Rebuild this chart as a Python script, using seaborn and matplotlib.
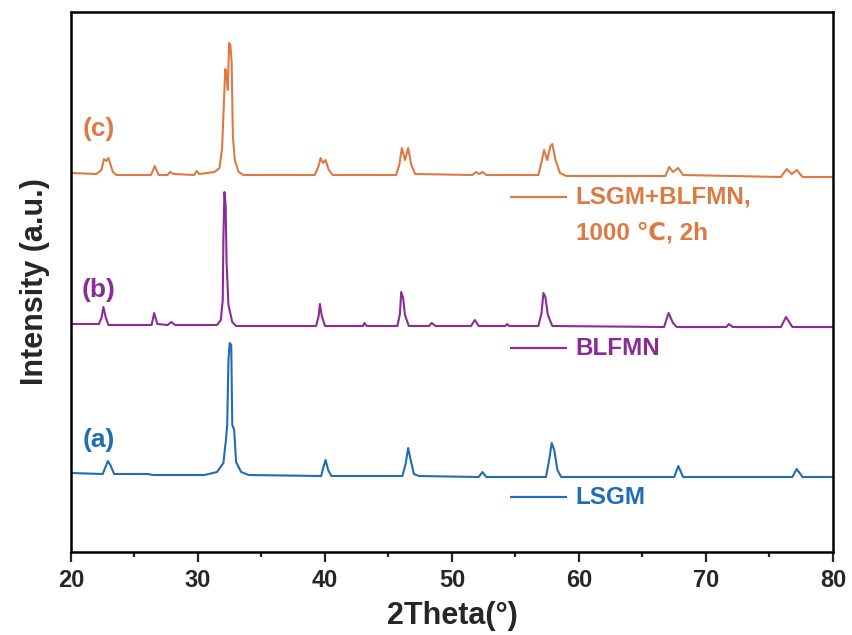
import matplotlib
matplotlib.use("Agg")
import matplotlib.pyplot as plt
import seaborn as sns
import pandas as pd
from matplotlib.ticker import MultipleLocator

# XRD patterns (relative intensity above each baseline)
lsgm_2theta = [20.0, 22.5, 22.75, 22.9, 23.1, 23.4, 26.0, 26.5, 30.5, 31.5, 32.0, 32.2, 32.3,
               32.4, 32.5, 32.62, 32.7, 32.85, 33.0, 33.4, 34.0, 39.7, 39.9, 40.05, 40.25, 40.5,
               46.1, 46.35, 46.55, 46.75, 47.0, 47.4, 52.1, 52.4, 52.7, 57.4, 57.65, 57.85, 58.05,
               58.3, 58.6, 67.5, 67.82, 68.2, 76.8, 77.14, 77.6, 80.0]
lsgm_int = [3, 2, 10, 15, 11, 2, 2, 1, 1, 4, 13, 36, 51,
            116, 133, 131, 51, 46, 14, 4, 1, 0, 10, 16, 6, 0,
            0, 12, 28, 16, 2, 0, -1, 4, -1, -1, 16, 33, 26,
            6, -1, -1, 10, -1, -1, 7, -1, -1]

blfmn_2theta = [20.0, 22.2, 22.4, 22.55, 22.75, 22.95, 26.35, 26.55, 26.8, 27.6, 27.9, 28.2,
                31.5, 31.8, 31.95, 32.0, 32.08, 32.18, 32.25, 32.4, 32.7, 33.0, 39.3, 39.5, 39.6,
                39.75, 40.0, 43.0, 43.1, 43.3, 45.7, 45.9, 46.0, 46.15, 46.3, 46.6, 48.2, 48.4,
                48.7, 51.5, 51.8, 52.1, 54.2, 54.35, 54.5, 56.8, 57.05, 57.2, 57.35, 57.55, 57.9,
                66.7, 67.05, 67.4, 67.7, 71.6, 71.8, 72.1, 75.9, 76.3, 76.8, 80.0]
blfmn_int = [2, 2, 8, 19, 8, 1, 1, 13, 2, 1, 4, 1,
             1, 6, 26, 86, 134, 121, 64, 21, 4, 0, 0, 10, 22,
             10, 0, 0, 3, 0, 0, 12, 34, 28, 11, 0, 0, 3,
             0, 0, 6, 0, 0, 2, 0, 0, 13, 33, 29, 11, 0,
             -1, 13, 3, -1, -1, 2, -1, -1, 9, -1, -1]

mix_2theta = [20.0, 22.0, 22.4, 22.6, 22.8, 22.95, 23.3, 23.6, 26.3, 26.6, 26.9, 27.6, 27.8,
              28.1, 29.7, 29.9, 30.1, 31.3, 31.7, 31.9, 32.05, 32.15, 32.25, 32.35, 32.45, 32.55,
              32.65, 32.75, 32.9, 33.2, 33.6, 39.2, 39.5, 39.65, 39.85, 40.05, 40.3, 40.6, 45.6,
              45.85, 46.05, 46.3, 46.55, 46.8, 47.1, 51.6, 51.9, 52.15, 52.4, 52.7, 56.8, 57.05,
              57.25, 57.5, 57.75, 57.9, 58.15, 58.5, 59.0, 66.8, 67.1, 67.4, 67.8, 68.2, 75.9,
              76.35, 76.75, 77.15, 77.6, 80.0]
mix_int = [2, 1, 5, 16, 14, 17, 3, 0, 0, 9, 0, 0, 3,
           1, 0, 4, 1, 3, 7, 27, 75, 106, 100, 85, 132, 130,
           113, 38, 15, 3, 0, 0, 9, 17, 12, 15, 5, 0, 0,
           10, 27, 15, 27, 10, 1, 0, 3, 1, 3, 0, 0, 13,
           25, 15, 29, 31, 15, 2, -1, -1, 8, 3, 7, 0, -2,
           6, 1, 5, -2, -2]

names = ["LSGM", "BLFMN", "LSGM+BLFMN,\n1000 \u2103, 2h"]
tags = ["(a)", "(b)", "(c)"]
offsets = [76, 226, 377]
tag_lift = [36, 36, 46]
colors = ["#1f6db3", "#8a2c98", "#db7b41"]

frames = []
for name, xs, ys, off in zip(names, [lsgm_2theta, blfmn_2theta, mix_2theta],
                              [lsgm_int, blfmn_int, mix_int], offsets):
    frames.append(pd.DataFrame({"2theta": xs, "intensity": [v + off for v in ys], "sample": name}))
df = pd.concat(frames, ignore_index=True)

sns.set_style("ticks")
plt.rcParams["font.family"] = ["Liberation Sans", "DejaVu Sans"]

fig = plt.figure(figsize=(8.52, 6.35), dpi=100)
ax = fig.add_axes([0.0833, 0.1307, 0.8944, 0.8504])

sns.lineplot(data=df, x="2theta", y="intensity", hue="sample", palette=colors,
             hue_order=names, estimator=None, sort=False, linewidth=1.5, legend=False, ax=ax)

ax.set_xlim(20, 80)
ax.set_ylim(0, 540)
ax.set_yticks([])
ax.xaxis.set_major_locator(MultipleLocator(10))
ax.xaxis.set_minor_locator(MultipleLocator(5))
ax.tick_params(axis="x", which="major", direction="out", length=7, width=1.6, pad=5,
               labelsize=17)
ax.tick_params(axis="x", which="minor", direction="out", length=3.5, width=1.6)
for lab in ax.get_xticklabels():
    lab.set_fontweight("bold")
for sp in ax.spines.values():
    sp.set_linewidth(1.8)
    sp.set_color("black")

ax.set_xlabel("2Theta(\u00b0)", fontsize=22, fontweight="bold", labelpad=7)
ax.set_ylabel("Intensity (a.u.)", fontsize=22, fontweight="bold", labelpad=15)

# sample tags on the left
for tag, off, lift, c in zip(tags, offsets, tag_lift, colors):
    ax.text(22.2, off + lift, tag, color=c, fontsize=19, fontweight="bold",
            ha="center", va="center")

# legend-style keys under each pattern
key_y = [55, 204, 355]
for name, ky, c in zip(names, key_y, colors):
    ax.hlines(ky, 54.6, 59.05, color=c, linewidth=1.6)
    for i, line in enumerate(name.split("\n")):
        ax.text(59.75, ky - 36 * i, line, color=c, fontsize=17.5, fontweight="bold",
                ha="left", va="center")

fig.savefig("out.png", dpi=100)
